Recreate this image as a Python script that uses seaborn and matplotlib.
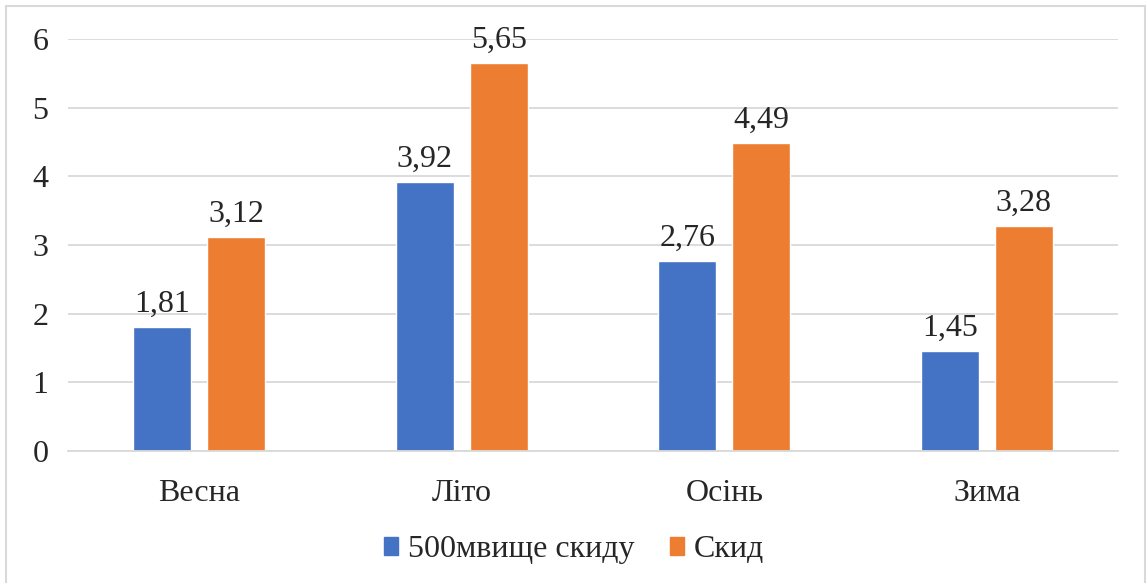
import matplotlib
matplotlib.use("Agg")
import matplotlib.pyplot as plt
from matplotlib.patches import Rectangle
import seaborn as sns
import pandas as pd

seasons = ["Весна", "Літо", "Осінь", "Зима"]
series_names = ["500мвище скиду", "Скид"]
above_values = [1.81, 3.92, 2.76, 1.45]
discharge_values = [3.12, 5.65, 4.49, 3.28]
y_ticks = [0, 1, 2, 3, 4, 5, 6]
colors = ["#4472C4", "#ED7D31"]

df = pd.DataFrame({
    "season": seasons * 2,
    "series": [series_names[0]] * len(seasons) + [series_names[1]] * len(seasons),
    "value": above_values + discharge_values,
})

sns.set_theme(style="white")
plt.rcParams["font.family"] = ["Liberation Serif", "DejaVu Serif"]

FS = 23

fig = plt.figure(figsize=(11.48, 5.83), dpi=100)
ax = fig.add_axes([0.0592, 0.2264, 0.9148, 0.7067])

sns.barplot(data=df, x="season", y="value", hue="series", order=seasons,
            hue_order=series_names, palette=colors, width=0.564, gap=0.22,
            saturation=1, errorbar=None, ax=ax, legend=False)

ax.set_xlim(-0.5, len(seasons) - 0.5)
ax.set_ylim(0, 6)
ax.set_yticks(y_ticks)
ax.set_yticklabels([str(t) for t in y_ticks], fontsize=FS)
ax.tick_params(axis="x", labelsize=FS, pad=20, length=0)
ax.tick_params(axis="y", pad=14, length=0)
ax.set_xlabel("")
ax.set_ylabel("")
ax.grid(axis="y", color="#D9D9D9", linewidth=1.3)
ax.set_axisbelow(True)
for side in ["top", "right", "left"]:
    ax.spines[side].set_visible(False)
ax.spines["bottom"].set_color("#D9D9D9")
ax.spines["bottom"].set_linewidth(1.3)

for container in ax.containers:
    ax.bar_label(container, labels=[f"{v:.2f}".replace(".", ",") for v in container.datavalues],
                 padding=6, fontsize=FS)

handles = [Rectangle((0, 0), 1, 1, color=c) for c in colors]
fig.legend(handles, series_names, loc="center", bbox_to_anchor=(0.5, 0.057), ncol=2,
           frameon=False, fontsize=FS, handlelength=0.46, handleheight=0.46,
           handletextpad=0.3, columnspacing=1.1)

fig.add_artist(Rectangle((0.005, -0.01), 0.992, 0.999, transform=fig.transFigure,
                         fill=False, edgecolor="#D9D9D9", linewidth=1.5))

fig.savefig("out.png", dpi=100, facecolor="white")
